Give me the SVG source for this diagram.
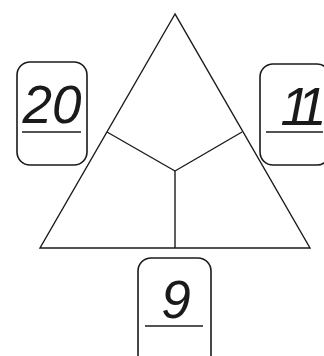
<svg xmlns="http://www.w3.org/2000/svg" width="324" height="356" viewBox="0 0 324 356">
<style>
.box{fill:#fff;stroke:#1a1a1a;stroke-width:1.6}
.ul{stroke:#1a1a1a;stroke-width:1.6}
.num{font-family:"Liberation Sans",Arial,sans-serif;font-style:italic;font-size:53px;fill:#1a1a1a;text-anchor:middle}
.edge{stroke:#1a1a1a;stroke-width:1.4;fill:none}
</style>
<rect width="324" height="356" fill="#fff"/>
<g id="connectors">
<polygon class="edge" points="175,14 40,248 310,248"/>
<line class="edge" x1="107" y1="132" x2="175" y2="171"/>
<line class="edge" x1="242" y1="132" x2="175" y2="171"/>
<line class="edge" x1="175" y1="171" x2="175" y2="248"/>
</g>
<g id="node-left">
<rect class="box" x="17" y="62" width="70" height="103" rx="13"/>
<text class="num" x="52" y="123">20</text>
<line class="ul" x1="22" y1="132" x2="81" y2="132"/>
</g>
<g id="node-right">
<rect class="box" x="260" y="64" width="70" height="101" rx="13"/>
<text class="num" x="299" y="125" letter-spacing="-9">11</text>
<line class="ul" x1="266" y1="132" x2="323" y2="132"/>
</g>
<g id="node-bottom">
<rect class="box" x="138" y="258" width="73" height="110" rx="13"/>
<text class="num" x="176" y="318">9</text>
<line class="ul" x1="145" y1="326" x2="203" y2="326"/>
</g>
</svg>
